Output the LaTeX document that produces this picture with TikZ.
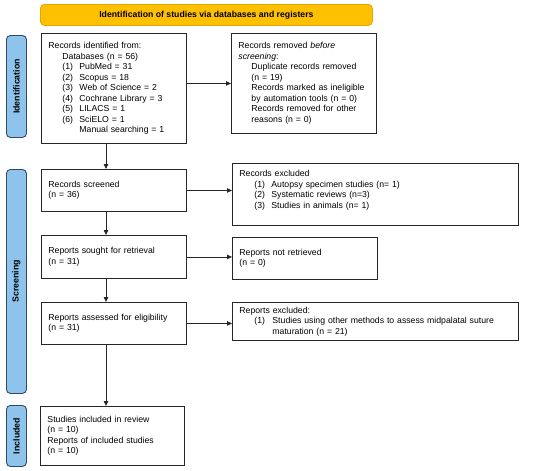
\documentclass[tikz,border=0pt]{standalone}
\usepackage{fontspec}
\setmainfont{Liberation Sans}
\usetikzlibrary{arrows.meta,calc}
\definecolor{hdrfill}{HTML}{FFC000}
\definecolor{hdrline}{HTML}{E3A600}
\definecolor{sidefill}{HTML}{8EC4EC}
\definecolor{sideline}{HTML}{2E4A66}
\tikzset{
  box/.style={draw=black!85, line width=0.9pt, rectangle, anchor=north west, align=left,
    inner xsep=7pt, inner ysep=0pt, font=\fontsize{8.7}{10.5}\selectfont},
  hdr/.style={draw=hdrline, fill=hdrfill, line width=0.8pt, rounded corners=4pt, anchor=north west,
    font=\bfseries\fontsize{8.7}{10}\selectfont, inner sep=0pt},
  side/.style={draw=sideline, fill=sidefill, line width=0.9pt, rounded corners=4pt, anchor=north west,
    inner sep=0pt},
  sidetext/.style={rotate=90, font=\bfseries\fontsize{8.8}{10}\selectfont},
  arr/.style={draw=black!85, line width=0.8pt, -{Triangle[length=5pt,width=4.5pt]}}
}
\newcommand{\ind}[1]{\hspace*{#1pt}}
\newcommand{\itm}[2]{\makebox[#1pt][l]{#2}}
\begin{document}
\begin{tikzpicture}[x=1pt,y=-1pt]
\useasboundingbox (0,0) rectangle (550,471);

% header
\node[hdr, minimum width=332pt, minimum height=21pt] (hd) at (40,4) {Identification of studies via databases and registers};

% side labels
\node[side, minimum width=20pt, minimum height=102pt] (sid) at (6,35) {};
\node[sidetext] at (sid.center) {Identification};
\node[side, minimum width=20pt, minimum height=224pt] (sis) at (6,169) {};
\node[sidetext] at (sis.center) {Screening};
\node[side, minimum width=20pt, minimum height=61pt] (sii) at (6,405) {};
\node[sidetext] at (sii.center) {Included};

% boxes
\node[box, text width=131pt, minimum width=145pt, minimum height=110pt] (b1) at (41,33) {%
Records identified from:\\
\ind{14}Databases (n = 56)\\
\ind{14}\itm{17}{(1)}PubMed = 31\\
\ind{14}\itm{17}{(2)}Scopus = 18\\
\ind{14}\itm{17}{(3)}Web of Science = 2\\
\ind{14}\itm{17}{(4)}Cochrane Library = 3\\
\ind{14}\itm{17}{(5)}LILACS = 1\\
\ind{14}\itm{17}{(6)}SciELO = 1\\
\ind{31}Manual searching = 1};

\node[box, text width=131pt, minimum width=145pt, minimum height=100pt] (b2) at (231,33) {%
Records removed \textit{before}\\
\textit{screening}:\\
\ind{13}Duplicate records removed\\
\ind{13}(n = 19)\\
\ind{13}Records marked as ineligible\\
\ind{13}by automation tools (n = 0)\\
\ind{13}Records removed for other\\
\ind{13}reasons (n = 0)};

\node[box, text width=131pt, minimum width=145pt, minimum height=42pt] (sc) at (41,169) {%
Records screened\\(n = 36)};

\node[box, text width=272pt, minimum width=286pt, minimum height=62pt] (ex) at (232,163) {%
Records excluded\\
\ind{15}\itm{17}{(1)}Autopsy specimen studies (n= 1)\\
\ind{15}\itm{17}{(2)}Systematic reviews (n=3)\\
\ind{15}\itm{17}{(3)}Studies in animals (n= 1)\\
\mbox{}};

\node[box, text width=131pt, minimum width=145pt, minimum height=43pt] (so) at (41,235) {%
Reports sought for retrieval\\(n = 31)};

\node[box, text width=131pt, minimum width=145pt, minimum height=42pt] (nr) at (232,237) {%
Reports not retrieved\\(n = 0)};

\node[box, text width=131pt, minimum width=145pt, minimum height=42pt] (as) at (41,302) {%
Reports assessed for eligibility\\(n = 31)};

\node[box, text width=272pt, minimum width=286pt, minimum height=38pt] (ex2) at (232,302) {%
Reports excluded:\\
\ind{15}\itm{18}{(1)}Studies using other methods to assess midpalatal suture\\
\ind{33}maturation (n = 21)};

\node[box, text width=130pt, minimum width=144pt, minimum height=59pt] (inc) at (40,406) {%
Studies included in review\\
(n = 10)\\
Reports of included studies\\
(n = 10)};

% connectors
\draw[arr] (b1.east |- b2.west) -- (b2.west);
\draw[arr] (sc.east) -- (sc.east -| ex.west);
\draw[arr] (so.east) -- (so.east -| nr.west);
\draw[arr] (as.east) -- (as.east -| ex2.west);

\coordinate (v1) at ([xshift=65pt]b1.south west);
\coordinate (v2) at ([xshift=65pt]sc.south west);
\coordinate (v3) at ([xshift=65pt]so.south west);
\coordinate (v4) at ([xshift=65pt]as.south west);
\draw[arr] (v1) -- (v1 |- sc.north);
\draw[arr] (v2) -- (v2 |- so.north);
\draw[arr] (v3) -- (v3 |- as.north);
\draw[arr] (v4) -- (v4 |- inc.north);
\end{tikzpicture}
\end{document}
